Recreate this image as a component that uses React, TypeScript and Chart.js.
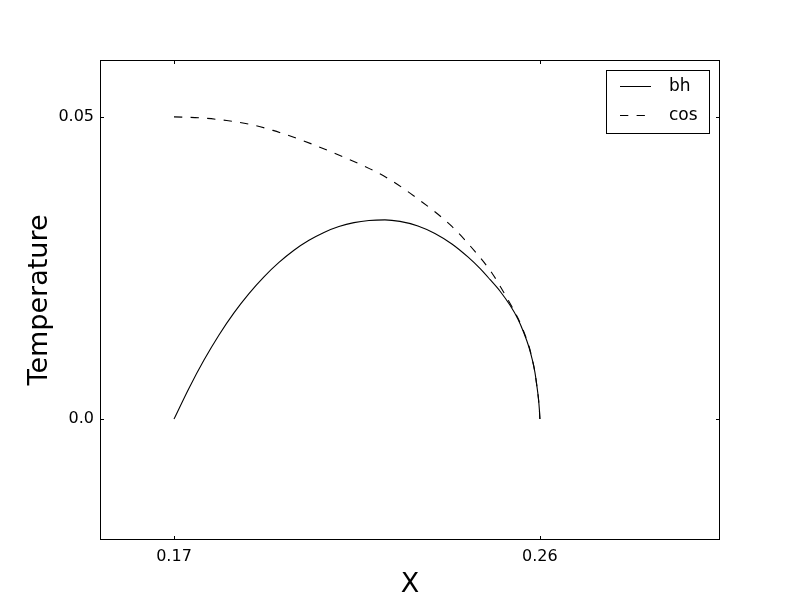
import React, { useEffect, useRef } from "react";
import { Chart, registerables } from "chart.js";

Chart.register(...registerables);

// bh curve (X, Temperature)
const bhX = [0.17, 0.17369, 0.17738, 0.18107, 0.18475, 0.18844, 0.19213, 0.19582, 0.19951, 0.2032, 0.20689, 0.21057, 0.21426, 0.21795, 0.22188, 0.22557, 0.23, 0.23418, 0.23836, 0.24229, 0.24525, 0.24771, 0.25016, 0.25262, 0.25459, 0.25607, 0.2573, 0.25803, 0.25877, 0.25926, 0.25963, 0.25988, 0.26];
const bhT = [0.0, 0.00512, 0.00977, 0.01392, 0.01757, 0.02076, 0.02353, 0.02591, 0.02793, 0.02957, 0.03088, 0.03185, 0.0325, 0.03285, 0.03295, 0.0327, 0.03195, 0.03071, 0.02897, 0.02682, 0.02492, 0.0231, 0.02119, 0.01887, 0.01656, 0.01424, 0.01192, 0.0101, 0.00778, 0.00546, 0.00348, 0.00149, 0.0];

// cos curve (X, Temperature)
const cosX = [0.17, 0.17639, 0.18296, 0.18869, 0.19434, 0.20172, 0.21008, 0.2182, 0.22262, 0.23, 0.23836, 0.24402, 0.2482, 0.25213, 0.25459, 0.25607, 0.2573, 0.25803, 0.25877, 0.25926, 0.25963, 0.25988, 0.26];
const cosT = [0.05, 0.04983, 0.04939, 0.04876, 0.04776, 0.04606, 0.04382, 0.04139, 0.03982, 0.03642, 0.03187, 0.02773, 0.02417, 0.01975, 0.01672, 0.0144, 0.01209, 0.01018, 0.00778, 0.00546, 0.00348, 0.00149, 0.0];

const xTicks = [0.17, 0.26];
const xTickLabels = ["0.17", "0.26"];
const yTicks = [0.0, 0.05];
const yTickLabels = ["0.0", "0.05"];

const seriesNames = ["bh", "cos"];
const xTitle = "X";
const yTitle = "Temperature";

const FONT = "'DejaVu Sans', sans-serif";

export default function App() {
  const ref = useRef<HTMLCanvasElement | null>(null);

  useEffect(() => {
    const canvas = ref.current;
    if (!canvas) return;

    const decor = {
      id: "decor",
      afterDraw(chart: any) {
        const ctx = chart.ctx as CanvasRenderingContext2D;
        const a = chart.chartArea;
        const xs = chart.scales.x;
        const ys = chart.scales.y;
        ctx.save();
        ctx.strokeStyle = "#000";
        ctx.lineWidth = 1;
        ctx.setLineDash([]);
        // frame
        ctx.strokeRect(a.left + 0.5, a.top + 0.5, a.right - a.left - 1, a.bottom - a.top - 1);
        // inward ticks on all sides
        const tl = 4;
        ctx.beginPath();
        xTicks.forEach((v) => {
          const px = Math.round(xs.getPixelForValue(v)) + 0.5;
          ctx.moveTo(px, a.bottom);
          ctx.lineTo(px, a.bottom - tl);
          ctx.moveTo(px, a.top);
          ctx.lineTo(px, a.top + tl);
        });
        yTicks.forEach((v) => {
          const py = Math.round(ys.getPixelForValue(v)) + 0.5;
          ctx.moveTo(a.left, py);
          ctx.lineTo(a.left + tl, py);
          ctx.moveTo(a.right, py);
          ctx.lineTo(a.right - tl, py);
        });
        ctx.stroke();

        // axis titles
        ctx.fillStyle = "#000";
        ctx.font = `27px ${FONT}`;
        ctx.textAlign = "center";
        ctx.textBaseline = "alphabetic";
        ctx.fillText(xTitle, (a.left + a.right) / 2, 592);
        ctx.save();
        ctx.translate(47, (a.top + a.bottom) / 2);
        ctx.rotate(-Math.PI / 2);
        ctx.fillText(yTitle, 0, 0);
        ctx.restore();

        // legend
        const bx = 606.5, by = 70.5, bw = 103, bh = 63;
        ctx.fillStyle = "#fff";
        ctx.fillRect(bx, by, bw, bh);
        ctx.strokeRect(bx, by, bw, bh);
        const rows = [86, 115];
        const dashes = [[], [8.3, 8.3]];
        rows.forEach((ry, i) => {
          ctx.beginPath();
          ctx.setLineDash(dashes[i]);
          ctx.moveTo(620, ry + 0.5);
          ctx.lineTo(651, ry + 0.5);
          ctx.stroke();
          ctx.setLineDash([]);
          ctx.fillStyle = "#000";
          ctx.font = `17px ${FONT}`;
          ctx.textAlign = "left";
          ctx.textBaseline = "middle";
          ctx.fillText(seriesNames[i], 669, ry + 1);
        });
        ctx.restore();
      },
    };

    const chart = new Chart(canvas, {
      type: "line",
      data: {
        datasets: [
          {
            label: seriesNames[0],
            data: bhX.map((x, i) => ({ x, y: bhT[i] })),
            borderColor: "#000",
            borderWidth: 1.1,
            pointRadius: 0,
            fill: false,
            cubicInterpolationMode: "monotone",
          },
          {
            label: seriesNames[1],
            data: cosX.map((x, i) => ({ x, y: cosT[i] })),
            borderColor: "#000",
            borderWidth: 1.1,
            borderDash: [8.3, 8.3],
            pointRadius: 0,
            fill: false,
            cubicInterpolationMode: "monotone",
          },
        ],
      },
      options: {
        animation: false,
        responsive: false,
        maintainAspectRatio: false,
        layout: { padding: { top: 60, right: 80, left: 0, bottom: 0 } },
        plugins: { legend: { display: false }, tooltip: { enabled: false } },
        scales: {
          x: {
            type: "linear",
            min: 0.1518,
            max: 0.3043,
            grid: { display: false, drawTicks: false },
            border: { display: false },
            afterBuildTicks: (s: any) => {
              s.ticks = xTicks.map((v) => ({ value: v }));
            },
            afterFit: (s: any) => {
              s.height = 60;
            },
            ticks: {
              padding: 7,
              color: "#000",
              maxRotation: 0,
              font: { family: FONT, size: 16 },
              callback: (v: any) => {
                const i = xTicks.findIndex((t) => Math.abs(t - v) < 1e-9);
                return i >= 0 ? xTickLabels[i] : "";
              },
            },
          },
          y: {
            type: "linear",
            min: -0.02,
            max: 0.0594,
            grid: { display: false, drawTicks: false },
            border: { display: false },
            afterBuildTicks: (s: any) => {
              s.ticks = yTicks.map((v) => ({ value: v }));
            },
            afterFit: (s: any) => {
              s.width = 100;
            },
            ticks: {
              padding: 6,
              color: "#000",
              font: { family: FONT, size: 16 },
              callback: (v: any) => {
                const i = yTicks.findIndex((t) => Math.abs(t - v) < 1e-9);
                return i >= 0 ? yTickLabels[i] : "";
              },
            },
          },
        },
      },
      plugins: [decor],
    } as any);

    return () => chart.destroy();
  }, []);

  return (
    <div style={{ position: "absolute", left: 0, top: 0, width: 800, height: 600, background: "#fff" }}>
      <canvas ref={ref} width={800} height={600} style={{ width: 800, height: 600 }} />
    </div>
  );
}
